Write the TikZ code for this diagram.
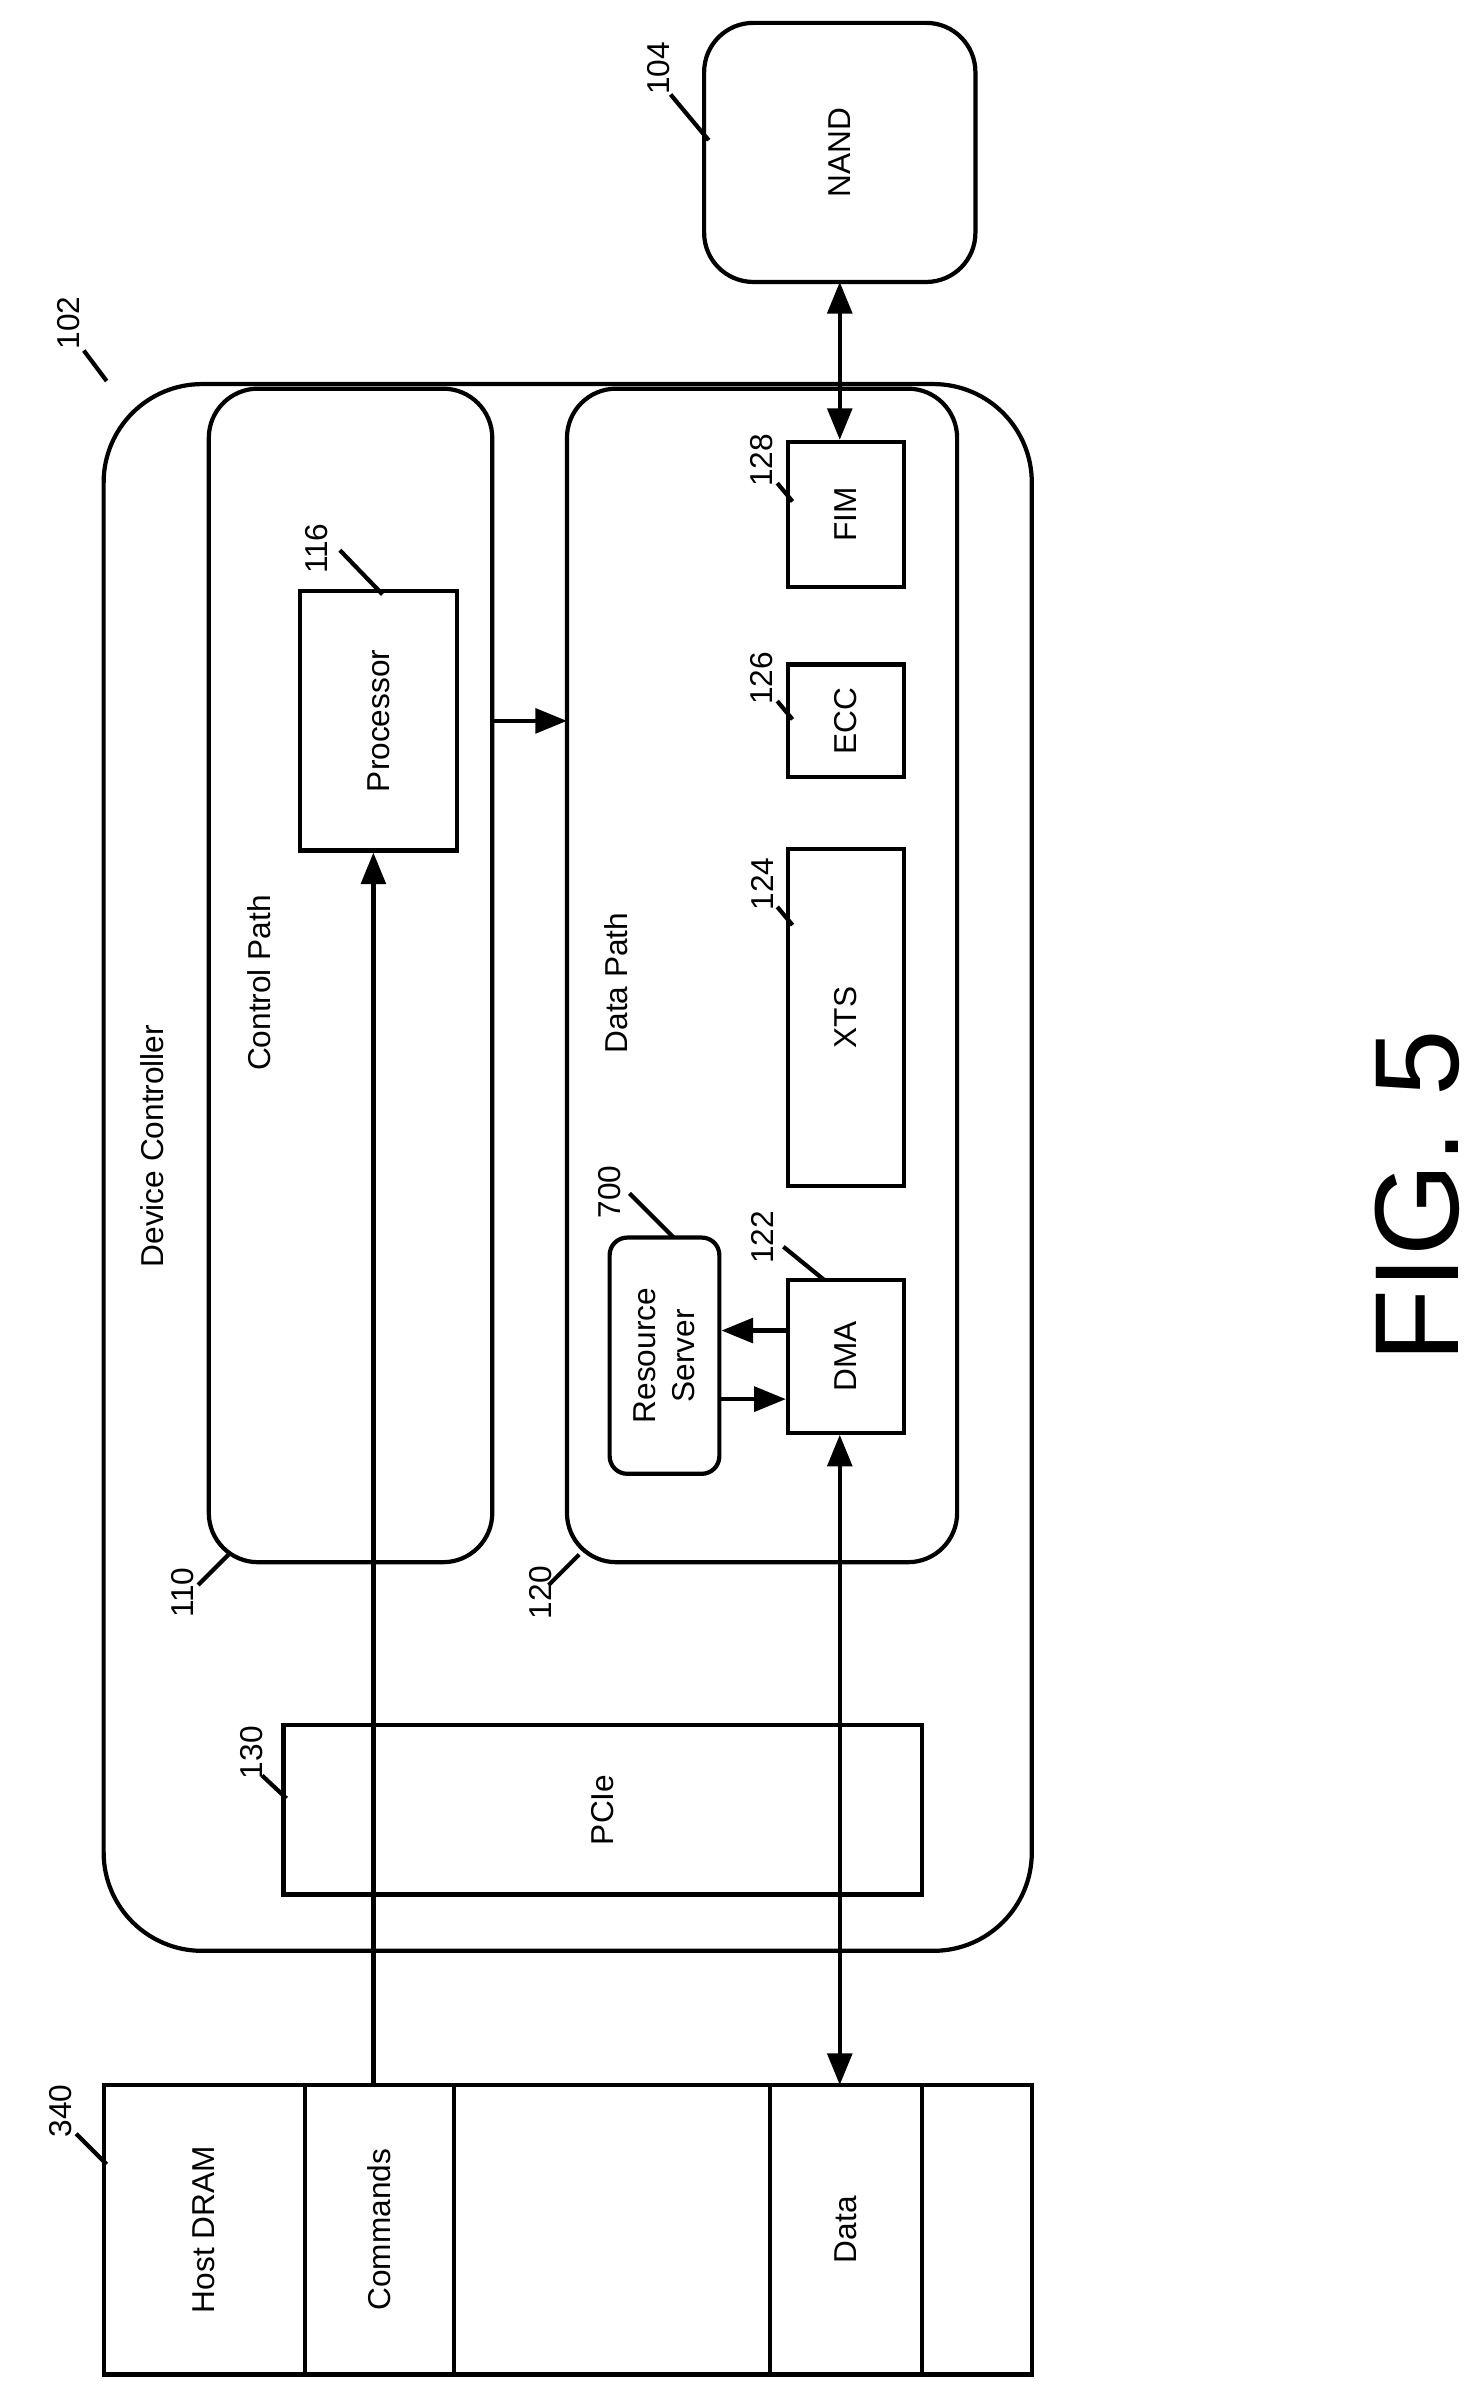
\documentclass[tikz,border=0pt]{standalone}
\usepackage{fontspec}
\setmainfont{Liberation Sans}
\usetikzlibrary{arrows.meta, positioning}
\begin{document}
\begin{tikzpicture}[x=0.01524cm, y=-0.01524cm, line width=1.2pt,
    box/.style={draw, inner sep=0pt},
    txt/.style={rotate=90, font=\fontsize{9}{11}\selectfont},
    lbl/.style={rotate=90, font=\fontsize{9}{11}\selectfont},
    arr/.style={-{Triangle[length=9pt, width=7pt]}},
    darr/.style={{Triangle[length=9pt, width=7pt]}-{Triangle[length=9pt, width=7pt]}}]
    \useasboundingbox (0,0) rectangle (970,1578);

    % Outer containers
    \draw[rounded corners=28pt] (68,252) rectangle (677,1280);
    \draw[rounded corners=14pt] (137,255) rectangle (323,1025);
    \draw[rounded corners=14pt] (372,255) rectangle (628,1025);
    \draw[rounded corners=14pt] (462,15) rectangle (640,185);

    % Blocks
    \node[box, minimum width=103*0.01524cm, minimum height=170*0.01524cm] (proc) at (248.5,473) {};
    \node[box, minimum width=419*0.01524cm, minimum height=111*0.01524cm] (pcie) at (395.5,1187.5) {};
    \node[box, rounded corners=5pt, minimum width=72*0.01524cm, minimum height=155*0.01524cm] (rs) at (436,889.5) {};
    \node[box, minimum width=76*0.01524cm, minimum height=100*0.01524cm] (dma) at (555,890) {};
    \node[box, minimum width=76*0.01524cm, minimum height=221*0.01524cm] (xts) at (555,667.5) {};
    \node[box, minimum width=76*0.01524cm, minimum height=74*0.01524cm] (ecc) at (555,473) {};
    \node[box, minimum width=76*0.01524cm, minimum height=95*0.01524cm] (fim) at (555,337.5) {};
    \coordinate (nand) at (551,185);
    \coordinate (ctrl) at (323,473);
    \coordinate (data) at (372,473);

    % Host DRAM
    \draw (68,1368) rectangle (677,1558);
    \foreach \x in {200, 298, 505, 605}
      \draw (\x,1368) -- (\x,1558);
    \coordinate (cmd) at (245,1368);
    \coordinate (dat) at (551,1368);

    % Texts
    \node[txt] at (551,100) {NAND};
    \node[txt] at (100,752) {Device Controller};
    \node[txt] at (170,645) {Control Path};
    \node[txt] at (404,645) {Data Path};
    \node[txt] at (proc) {Processor};
    \node[txt] at (pcie) {PCIe};
    \node[txt, align=center] at (rs) {Resource\\Server};
    \node[txt] at (dma) {DMA};
    \node[txt] at (xts) {XTS};
    \node[txt] at (ecc) {ECC};
    \node[txt] at (fim) {FIM};
    \node[txt] at (134,1463) {Host DRAM};
    \node[txt] at (249,1463) {Commands};
    \node[txt] at (555,1463) {Data};
    \node[rotate=90, font=\fontsize{34}{38}\selectfont, inner sep=0pt] at (930,785) {FIG. 5};

    % Reference labels
    \node[lbl] at (45,212) {102};
    \draw (55,230) -- (70,250);
    \node[lbl] at (432,45) {104};
    \draw (440,62) -- (465,92);
    \node[lbl] at (120,1045) {110};
    \draw (130,1040) -- (150,1020);
    \node[lbl] at (208,360) {116};
    \draw (223,361) -- (251,390);
    \node[lbl] at (355,1045) {120};
    \draw (360,1040) -- (380,1020);
    \node[lbl] at (500,812) {122};
    \draw (514,818) -- (541,840);
    \node[lbl] at (500,580) {124};
    \draw (510,595) -- (520,607);
    \node[lbl] at (500,445) {126};
    \draw (510,460) -- (520,472);
    \node[lbl] at (500,302) {128};
    \draw (510,317) -- (520,329);
    \node[lbl] at (165,1150) {130};
    \draw (172,1165) -- (188,1180);
    \node[lbl] at (40,1385) {340};
    \draw (50,1400) -- (70,1420);
    \node[lbl] at (400,782) {700};
    \draw (413,783) -- (442,812);

    % Connectors
    \draw[arr] (cmd) -- (proc.south -| cmd);
    \draw[darr] (dat) -- (dma.south -| dat);
    \draw[darr] (nand) -- (fim.north -| nand);
    \draw[arr] (ctrl) -- (data);
    \draw[arr] (dma.west |- 0,873) -- (rs.east |- 0,873);
    \draw[arr] (rs.east |- 0,918) -- (dma.west |- 0,918);
\end{tikzpicture}
\end{document}
